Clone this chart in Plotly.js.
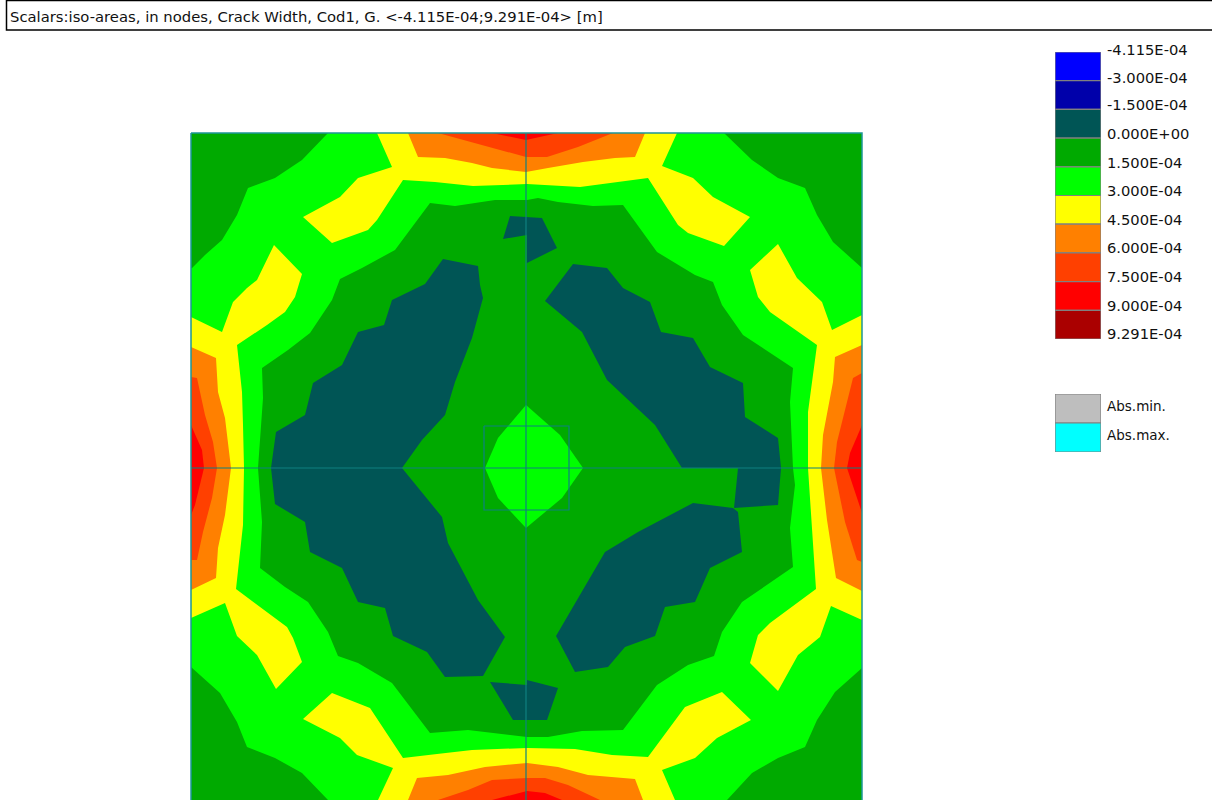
<!DOCTYPE html>
<html>
<head>
<meta charset="utf-8">
<script src="https://cdn.plot.ly/plotly-3.0.1.min.js"></script>
<style>html,body{margin:0;padding:0;background:#fff}#chart{width:1212px;height:800px}</style>
</head>
<body>
<div id="chart"></div>
<script>
// Legend
const legendLabels = ['-4.115E-04','-3.000E-04','-1.500E-04','0.000E+00','1.500E-04','3.000E-04','4.500E-04','6.000E-04','7.500E-04','9.000E-04','9.291E-04'];
const legendColors = ['#0000FF','#0000AA','#005555','#00AA00','#00FF00','#FFFF00','#FF8000','#FF4000','#FF0000','#AA0000'];
const legendTickPos = [0.035,1.015,1.955,2.965,3.975,4.945,5.955,6.935,7.945,8.955,9.935];
const absLabels = ['Abs.min.','Abs.max.'];
const absColors = ['#BEBEBE','#00FFFF'];

const C_BASE='#00AA00', C_TEAL='#005555', C_GREEN='#00FF00', C_YEL='#FFFF00', C_ORA='#FF8000', C_ROR='#FF4000', C_RED='#FF0000';

// Iso-area outlines, in model coordinates
const plate = [[191,133],[862,133],[862,804],[191,804]];
const greenOuter = [[328,133],[724,133],[752,160],[778,178],[805,188],[817,215],[833,242],[862,268],[862,668],[835,692],[817,720],[805,747],[778,758],[752,773],[727,800],[328,800],[302,773],[275,758],[247,747],[237,722],[220,693],[192,667],[191,667],[191,268],[192,268],[205,255],[222,240],[237,215],[248,188],[275,178],[302,160]];
const yellowTop = [[377,133],[392,167],[358,178],[340,197],[303,217],[332,243],[368,230],[377,220],[403,180],[435,182],[473,186],[527,184],[580,187],[608,183],[648,178],[678,225],[688,233],[724,246],[750,217],[713,197],[693,178],[662,166],[677,133]];
const orangeTop = [[408,133],[418,157],[445,158],[472,163],[492,168],[526,172],[548,168],[583,162],[615,158],[635,157],[645,133]];
const redOrangeTop = [[438,133],[472,142],[502,150],[526,157],[547,157],[578,147],[613,133]];
const redTop = [[492,133],[526,140],[558,133]];
const yellowLeft = [[191,317],[222,332],[233,302],[247,288],[257,280],[274,245],[302,274],[295,297],[285,312],[267,325],[237,345],[242,392],[243,425],[244,468],[243,525],[238,572],[236,589],[287,627],[293,638],[302,662],[276,689],[257,655],[237,636],[225,603],[191,618]];
const orangeLeft = [[191,347],[216,358],[218,392],[225,418],[231,468],[225,515],[218,548],[216,578],[191,590]];
const redOrangeLeft = [[191,377],[197,378],[205,415],[213,442],[217,468],[212,498],[203,532],[197,560],[191,560]];
const redLeft = [[191,425],[202,450],[204,468],[195,505],[191,515]];
const yellowRight = [[862,315],[832,330],[822,302],[797,278],[778,244],[750,270],[758,297],[770,312],[817,345],[808,412],[808,468],[814,552],[816,589],[770,623],[758,635],[750,663],[778,691],[798,655],[820,637],[831,606],[862,620]];
const orangeRight = [[862,345],[835,357],[833,382],[823,435],[821,468],[827,520],[836,578],[862,591]];
const redOrangeRight = [[862,373],[853,378],[837,442],[834,468],[845,522],[857,560],[862,562]];
const redRight = [[862,425],[850,453],[847,468],[862,513]];
const yellowBottom = [[378,800],[393,768],[357,755],[340,738],[303,719],[332,693],[370,708],[403,758],[437,754],[472,750],[527,748],[575,749],[612,755],[648,757],[685,707],[722,692],[751,720],[717,738],[695,758],[662,770],[675,800]];
const orangeBottom = [[408,800],[417,778],[448,775],[485,767],[527,763],[558,767],[588,775],[635,779],[643,800]];
const redOrangeBottom = [[438,800],[468,790],[492,780],[527,778],[545,778],[568,785],[600,800]];
const redBottom = [[492,800],[527,791],[545,793],[562,800]];
const innerBase = [[527,200],[495,200],[455,206],[430,203],[395,250],[362,268],[340,279],[332,300],[310,333],[288,350],[262,368],[263,398],[258,468],[262,522],[260,568],[285,587],[308,602],[328,632],[338,656],[358,663],[392,683],[430,733],[468,730],[527,737],[548,737],[582,731],[623,730],[657,685],[688,665],[714,656],[722,632],[742,602],[793,567],[790,528],[795,485],[793,468],[790,402],[793,368],[743,335],[722,305],[713,282],[695,275],[657,252],[623,205],[593,206],[558,202],[538,198]];
const tealTop = [[503,239],[510,216],[542,218],[557,248],[527,263],[527,235]];
const tealUpperLeft = [[443,259],[478,266],[480,285],[483,298],[472,338],[455,382],[445,415],[422,440],[402,468],[442,517],[448,543],[478,600],[505,637],[483,676],[445,677],[427,652],[393,636],[385,608],[358,602],[342,568],[310,552],[305,522],[275,504],[271,468],[276,432],[305,415],[313,383],[342,365],[358,332],[384,325],[392,300],[425,284]];
const tealUpperRight = [[573,264],[607,268],[623,288],[650,302],[661,332],[693,338],[710,367],[743,383],[745,417],[778,438],[781,468],[682,468],[655,425],[607,380],[582,332],[545,301]];
const tealRightSmall = [[738,468],[781,468],[778,505],[734,508]];
const tealLowerRight = [[693,503],[733,508],[738,512],[742,552],[710,568],[695,602],[665,607],[655,636],[625,647],[608,667],[575,672],[556,636],[605,552],[638,532]];
const tealBottom = [[490,682],[527,685],[527,680],[558,688],[547,720],[513,720]];
const centerDiamond = [[526,405],[498,438],[485,468],[498,498],[526,528],[562,498],[583,468],[560,435]];

// Mesh lines
const meshVertical = [[526,133],[526,804]];
const meshHorizontal = [[191,468],[862,468]];
const meshSquare = [[484,426],[569,426],[569,510],[484,510],[484,426]];
const meshBorder = [[191,133],[862,133],[862,804],[191,804],[191,133]];

function area(pts, color){
  return {type:'scatter',mode:'lines',x:pts.map(p=>p[0]),y:pts.map(p=>p[1]),fill:'toself',fillcolor:color,
    line:{width:0,color:color},hoverinfo:'skip',showlegend:false,xaxis:'x',yaxis:'y'};
}
function mesh(pts, color, width){
  return {type:'scatter',mode:'lines',x:pts.map(p=>p[0]),y:pts.map(p=>p[1]),line:{width:width,color:color},
    hoverinfo:'skip',showlegend:false,xaxis:'x',yaxis:'y'};
}
const layers = [
  [plate,C_BASE],[greenOuter,C_GREEN],
  [yellowTop,C_YEL],[yellowLeft,C_YEL],[yellowRight,C_YEL],[yellowBottom,C_YEL],
  [orangeTop,C_ORA],[orangeLeft,C_ORA],[orangeRight,C_ORA],[orangeBottom,C_ORA],
  [redOrangeTop,C_ROR],[redOrangeLeft,C_ROR],[redOrangeRight,C_ROR],[redOrangeBottom,C_ROR],
  [redTop,C_RED],[redLeft,C_RED],[redRight,C_RED],[redBottom,C_RED],
  [innerBase,C_BASE],
  [tealTop,C_TEAL],[tealUpperLeft,C_TEAL],[tealUpperRight,C_TEAL],[tealRightSmall,C_TEAL],[tealLowerRight,C_TEAL],[tealBottom,C_TEAL],
  [centerDiamond,C_GREEN]
];
const traces = layers.map(l=>area(l[0],l[1]));
traces.push(mesh(meshVertical,'#0E8080',1.2),mesh(meshHorizontal,'#0E8080',1.2),mesh(meshSquare,'#0E8080',1.2),mesh(meshBorder,'#1E9696',1.5));

traces.push({type:'bar',orientation:'h',x:legendColors.map(()=>1),y:legendColors.map((c,i)=>i+0.5),width:1,
  marker:{color:legendColors,line:{color:'#808080',width:1.2}},hoverinfo:'skip',showlegend:false,xaxis:'x2',yaxis:'y2'});
traces.push({type:'bar',orientation:'h',x:absColors.map(()=>1),y:absColors.map((c,i)=>i+0.5),width:1,
  marker:{color:absColors,line:{color:'#808080',width:1.2}},hoverinfo:'skip',showlegend:false,xaxis:'x3',yaxis:'y3'});

const W=1212,H=800;
const FONT='"DejaVu Sans", sans-serif';
const hidden={visible:false,fixedrange:true};
const layout={
  width:W,height:H,margin:{l:0,r:0,t:0,b:0},paper_bgcolor:'#fff',plot_bgcolor:'rgba(0,0,0,0)',showlegend:false,
  font:{family:FONT,color:'#111',size:14},
  title:{text:'Scalars:iso-areas, in nodes, Crack Width, Cod1, G. &lt;-4.115E-04;9.291E-04&gt; [m]',
    x:10/W,xanchor:'left',y:1-17/H,yanchor:'middle',xref:'paper',yref:'paper',font:{family:FONT,size:14.8,color:'#111'}},
  shapes:[{type:'rect',xref:'paper',yref:'paper',x0:6.5/W,x1:1213/W,y0:1-30/H,y1:1-0.5/H,line:{color:'#000',width:1.5},fillcolor:'rgba(0,0,0,0)'}],
  xaxis:Object.assign({domain:[188/W,865/W],range:[188,865]},hidden),
  yaxis:Object.assign({domain:[0,1-130/H],range:[800,130]},hidden),
  xaxis2:Object.assign({domain:[1055/W,1101/W],range:[0,1],anchor:'y2'},hidden),
  yaxis2:{domain:[1-339/H,1-52/H],range:[10,0],anchor:'x2',side:'right',showgrid:false,zeroline:false,showline:false,ticks:'',
    tickmode:'array',tickvals:legendTickPos,ticktext:legendLabels,ticklabelstandoff:5,ticklabelshift:3,
    tickfont:{family:FONT,size:14.7,color:'#111'},fixedrange:true},
  xaxis3:Object.assign({domain:[1055/W,1101/W],range:[0,1],anchor:'y3'},hidden),
  yaxis3:{domain:[1-452/H,1-394/H],range:[2,0],anchor:'x3',side:'right',showgrid:false,zeroline:false,showline:false,ticks:'',
    tickmode:'array',tickvals:[0.5,1.5],ticktext:absLabels,ticklabelstandoff:5,ticklabelshift:2,
    tickfont:{family:FONT,size:13.5,color:'#111'},fixedrange:true}
};
Plotly.newPlot('chart',traces,layout,{displayModeBar:false,staticPlot:true});
</script>
</body>
</html>
